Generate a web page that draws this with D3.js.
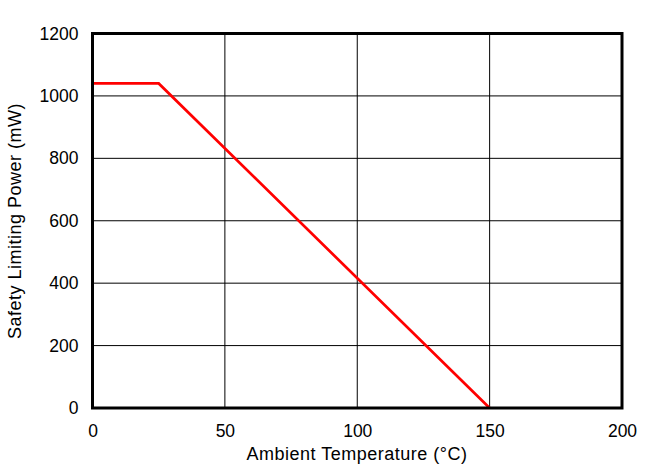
<!DOCTYPE html>
<html><head><meta charset="utf-8">
<script src="https://cdn.jsdelivr.net/npm/d3@7"></script>
<style>body{margin:0;background:#fff}svg{display:block}text{font-family:"Liberation Sans",Arial,sans-serif;fill:#000}</style>
</head><body><svg id="c" width="657" height="475"></svg>
<script>
const temps = [0, 25, 150];
const power = [1040, 1040, 0];
const xTicks = [0, 50, 100, 150, 200];
const yTicks = [0, 200, 400, 600, 800, 1000, 1200];

const L = 92.5, R = 622, T = 33.5, B = 408;
const svg = d3.select("#c");
const x = d3.scaleLinear().domain([0, 200]).range([L, R]);
const y = d3.scaleLinear().domain([0, 1200]).range([B, T]);

// grid
svg.append("g").selectAll("line").data(xTicks.slice(1, -1)).join("line")
  .attr("x1", d => x(d)).attr("x2", d => x(d)).attr("y1", T).attr("y2", B)
  .attr("stroke", "#000").attr("stroke-width", 1);
svg.append("g").selectAll("line").data(yTicks.slice(1, -1)).join("line")
  .attr("y1", d => y(d)).attr("y2", d => y(d)).attr("x1", L).attr("x2", R)
  .attr("stroke", "#000").attr("stroke-width", 1);

// data line
svg.append("path").datum(temps.map((t, i) => [t, power[i]]))
  .attr("d", d3.line().x(d => x(d[0])).y(d => y(d[1])))
  .attr("fill", "none").attr("stroke", "#ff0000").attr("stroke-width", 2.7);

// frame
svg.append("rect").attr("x", L).attr("y", T).attr("width", R - L).attr("height", B - T)
  .attr("fill", "none").attr("stroke", "#000").attr("stroke-width", 3);

const fmt = d3.format("d");
const xa = svg.append("g").attr("transform", `translate(0,${B})`)
  .call(d3.axisBottom(x).tickValues(xTicks).tickFormat(fmt).tickSize(0).tickPadding(17));
xa.select(".domain").remove();
xa.selectAll("text").attr("font-size", 17.5).style("font-family", "Liberation Sans, Arial, sans-serif");
const ya = svg.append("g").attr("transform", `translate(${L},0)`)
  .call(d3.axisLeft(y).tickValues(yTicks).tickFormat(fmt).tickSize(0).tickPadding(14));
ya.select(".domain").remove();
ya.selectAll("text").attr("font-size", 17.5).style("font-family", "Liberation Sans, Arial, sans-serif");

svg.append("text").attr("x", 357).attr("y", 460).attr("text-anchor", "middle")
  .attr("font-size", 18).attr("letter-spacing", 0.5).text("Ambient Temperature (°C)");
svg.append("text").attr("transform", `translate(21,221) rotate(-90)`)
  .attr("text-anchor", "middle").attr("font-size", 18).attr("letter-spacing", 0.5)
  .text("Safety Limiting Power (mW)");
</script></body></html>
